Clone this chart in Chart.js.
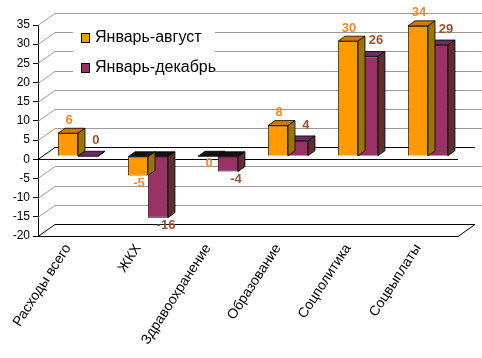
<!DOCTYPE html>
<html>
<head>
<meta charset="utf-8">
<script src="https://cdn.jsdelivr.net/npm/chart.js@4/dist/chart.umd.min.js"></script>
<style>
  body { margin: 0; background: #fff; }
  canvas { display: block; }
</style>
</head>
<body>
<canvas id="chart" width="482" height="358"></canvas>
<script>
// data
const categories = ['Расходы всего', 'ЖКХ', 'Здравоохранение', 'Образование', 'Соцполитика', 'Соцвыплаты'];
const janAug = [6, -5, 0, 8, 30, 34];
const janDec = [0, -16, -4, 4, 26, 29];
const seriesNames = ['Январь-август', 'Январь-декабрь'];
const yTicks = { min: -20, max: 35, step: 5 };

// 3d look
const WALL = { dx: 17, dy: -12 };   // depth of the back wall
const BAR = { dx: 7, dy: -5 };      // depth of each bar
const SHIFT = { x: 5, y: -3 };      // bars sit a bit into the depth
const faces = [
  { front: '#FF9900', top: '#CC7A00', side: '#9C7400', label: '#F08A2A' },
  { front: '#993366', top: '#6E2C5E', side: '#5E2E30', label: '#A0502D' }
];

// label goes above when the bar rises (a zero bar follows its neighbour)
function goesUp(chart, i, j) {
  const v = chart.data.datasets[i].data[j];
  const other = chart.data.datasets[1 - i].data[j];
  return v > 0 || (v === 0 && other > 0);
}

function poly(ctx, pts, fill) {
  ctx.beginPath();
  ctx.moveTo(pts[0][0], pts[0][1]);
  for (let i = 1; i < pts.length; i++) ctx.lineTo(pts[i][0], pts[i][1]);
  ctx.closePath();
  ctx.fillStyle = fill;
  ctx.fill();
  ctx.strokeStyle = '#000';
  ctx.lineWidth = 0.8;
  ctx.stroke();
}

const wallPlugin = {
  id: 'wall',
  beforeDatasetsDraw(chart) {
    const { ctx, chartArea: a, scales: { y } } = chart;
    ctx.save();
    for (let v = yTicks.min; v <= yTicks.max; v += yTicks.step) {
      const py = Math.round(y.getPixelForValue(v)) + 0.5;
      const black = (v === 0 || v === yTicks.min);
      ctx.strokeStyle = black ? '#000' : '#9a9a9a';
      ctx.lineWidth = 1;
      ctx.beginPath();
      ctx.moveTo(a.left, py);
      ctx.lineTo(a.left + WALL.dx, py + WALL.dy);
      ctx.lineTo(black ? a.right + WALL.dx : chart.width, py + WALL.dy);
      ctx.stroke();
      if (black) {
        ctx.beginPath();
        ctx.moveTo(a.left, py);
        ctx.lineTo(a.right, py);
        if (v === yTicks.min) ctx.lineTo(a.right + WALL.dx, py + WALL.dy);
        ctx.stroke();
      }
    }
    // legend box (drawn from dataset info)
    const lx = a.left + 35, ly = a.top;
    ctx.fillStyle = '#fff';
    ctx.fillRect(lx, ly, 142, 56);
    ctx.font = '16px "Liberation Sans", Arial, sans-serif';
    ctx.textBaseline = 'middle';
    chart.data.datasets.forEach((ds, i) => {
      const cy = ly + 13 + i * 30;
      ctx.fillStyle = ds.backgroundColor;
      ctx.strokeStyle = '#000';
      ctx.lineWidth = 1;
      ctx.fillRect(lx + 8, cy - 5, 9, 10);
      ctx.strokeRect(lx + 8.5, cy - 4.5, 8, 9);
      ctx.fillStyle = '#000';
      ctx.fillText(ds.label, lx + 22, cy);
    });
    ctx.restore();
  },
  beforeDatasetDraw(chart) {
    chart.ctx.save();
    chart.ctx.translate(SHIFT.x, SHIFT.y);
  },
  afterDatasetDraw(chart, args) {
    const { ctx } = chart;
    const f = faces[args.index];
    args.meta.data.forEach((bar, j) => {
      const half = bar.width / 2;
      const l = bar.x - half, r = bar.x + half;
      const topY = Math.min(bar.y, bar.base), botY = Math.max(bar.y, bar.base);
      const topCol = goesUp(chart, args.index, j) ? f.top : '#151010';
      poly(ctx, [[l, topY], [r, topY], [r + BAR.dx, topY + BAR.dy], [l + BAR.dx, topY + BAR.dy]], topCol);
      poly(ctx, [[r, topY], [r + BAR.dx, topY + BAR.dy], [r + BAR.dx, botY + BAR.dy], [r, botY]], f.side);
    });
    ctx.restore();
  },
  afterDatasetsDraw(chart) {
    const { ctx } = chart;
    ctx.save();
    ctx.font = 'bold 13px "Liberation Sans", Arial, sans-serif';
    ctx.textAlign = 'center';
    ctx.textBaseline = 'middle';
    chart.data.datasets.forEach((ds, i) => {
      const meta = chart.getDatasetMeta(i);
      ctx.fillStyle = faces[i].label;
      meta.data.forEach((bar, j) => {
        const v = ds.data[j];
        const x = bar.x + SHIFT.x + (i === 0 ? 1 : 8);
        const y = goesUp(chart, i, j)
          ? Math.min(bar.y, bar.base) + SHIFT.y - (i === 0 ? 13 : 16)
          : Math.max(bar.y, bar.base) + SHIFT.y + (v === 0 ? 7 : 8);
        ctx.fillText(String(v), x, y);
      });
    });
    ctx.restore();
  }
};

new Chart(document.getElementById('chart'), {
  type: 'bar',
  data: {
    labels: categories,
    datasets: [
      { label: seriesNames[0], data: janAug, backgroundColor: faces[0].front, borderColor: '#000', borderWidth: 0.8 },
      { label: seriesNames[1], data: janDec, backgroundColor: faces[1].front, borderColor: '#000', borderWidth: 0.8 }
    ]
  },
  options: {
    responsive: false,
    animation: false,
    categoryPercentage: 0.57,
    barPercentage: 1,
    layout: { padding: { top: 25, right: 24, left: 0, bottom: 0 } },
    plugins: { legend: { display: false }, tooltip: { enabled: false } },
    scales: {
      x: {
        afterFit: s => { s.height = 122; },
        grid: { display: false },
        border: { display: false },
        ticks: {
          color: '#000',
          font: { family: '"Liberation Sans", Arial, sans-serif', size: 14 },
          minRotation: 57, maxRotation: 57, padding: -3, labelOffset: -5, autoSkip: false
        }
      },
      y: {
        min: yTicks.min, max: yTicks.max,
        afterFit: s => { s.width = 38; },
        grid: { drawOnChartArea: false, drawTicks: true, tickLength: 5, color: '#000' },
        border: { display: true, color: '#000' },
        ticks: {
          stepSize: yTicks.step, padding: 3, color: '#000',
          font: { family: '"Liberation Sans", Arial, sans-serif', size: 12 }
        }
      }
    }
  },
  plugins: [wallPlugin]
});
</script>
</body>
</html>
